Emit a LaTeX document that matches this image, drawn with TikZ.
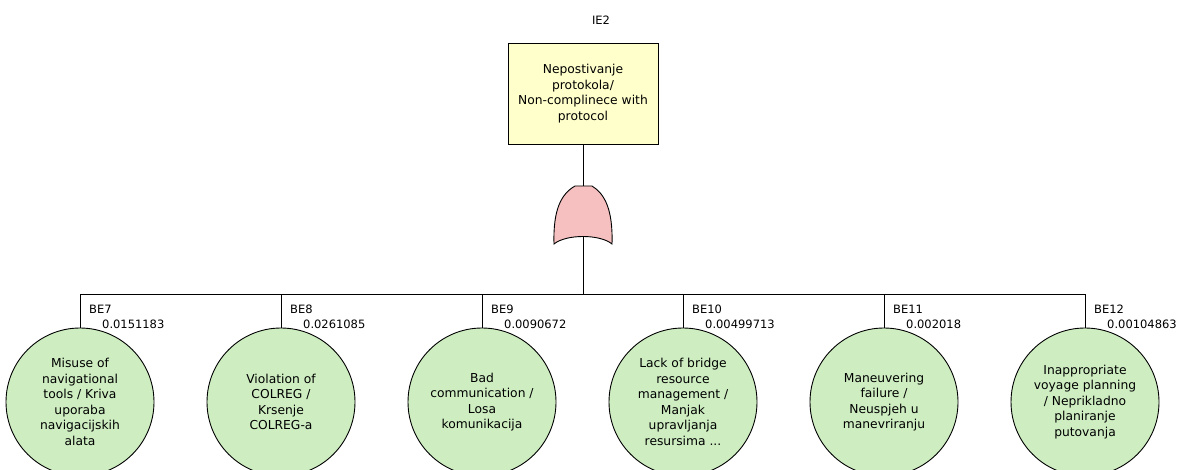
\documentclass[tikz,border=0pt]{standalone}
\usepackage{fontspec}
\setmainfont{DejaVu Sans}
\definecolor{boxfill}{RGB}{255,255,204}
\definecolor{evfill}{RGB}{206,238,194}
\definecolor{gatefill}{RGB}{246,192,192}
\begin{document}
\begin{tikzpicture}[x=1pt,y=-1pt,
  every node/.style={font=\fontsize{12.3}{15.5}\selectfont, inner sep=0pt},
  line/.style={draw=black, line width=0.9pt},
  topbox/.style={draw=black, line width=0.9pt, fill=boxfill, minimum width=150pt, minimum height=101pt, align=center},
  basic/.style={circle, draw=black, line width=0.9pt, fill=evfill, minimum size=148pt, align=center},
  idlab/.style={anchor=west, font=\fontsize{11.5}{14}\selectfont},
  problab/.style={anchor=west, font=\fontsize{11.5}{14}\selectfont}]
\clip (0,0) rectangle (1180,470);
\fill[white] (0,0) rectangle (1180,470);
% top event
\node[anchor=center, font=\fontsize{11.5}{14}\selectfont] (ie2lab) at (601,20) {IE2};
\node[topbox] (top) at (583,93.5) {Nepostivanje\\protokola/\\Non-complinece with\\protocol};
% OR gate
\draw[line, fill=gatefill] (554,244) .. controls (553,210) and (561,194) .. (575,186) -- (592,186)
  .. controls (605,194) and (613,210) .. (612,244) .. controls (600,234) and (566,234) .. (554,244) -- cycle;
\coordinate (gtop) at (583,186);
\coordinate (gbot) at (583,236);
\coordinate (bus) at (583,294);
\draw[line] (top.south) -- (gtop);
\draw[line] (gbot) -- (bus);
% basic events
\node[basic] (b7) at (80,402) {Misuse of\\navigational\\tools / Kriva\\uporaba\\navigacijskih\\alata};
\node[basic] (b8) at (281,402) {Violation of\\COLREG /\\Krsenje\\COLREG-a};
\node[basic] (b9) at (482,402) {Bad\\communication /\\Losa\\komunikacija};
\node[basic] (b10) at (683,402) {Lack of bridge\\resource\\management /\\Manjak\\upravljanja\\resursima ...};
\node[basic] (b11) at (884,402) {Maneuvering\\failure /\\Neuspjeh u\\manevriranju};
\node[basic] (b12) at (1085,402) {Inappropriate\\voyage planning\\/ Neprikladno\\planiranje\\putovanja};
\foreach \n in {b7,b8,b9,b10,b11,b12}{
  \draw[line] (bus) -| (\n.north);
}
% labels
\foreach \n/\id/\p in {b7/BE7/0.0151183, b8/BE8/0.0261085, b9/BE9/0.0090672, b10/BE10/0.00499713, b11/BE11/0.002018, b12/BE12/0.00104863}{
  \node[idlab] (\n id) at ([xshift=9pt]\n.north |- 0,309) {\id};
  \node[problab] (\n p) at ([xshift=22pt]\n.north |- 0,324) {\p};
}
\end{tikzpicture}
\end{document}
